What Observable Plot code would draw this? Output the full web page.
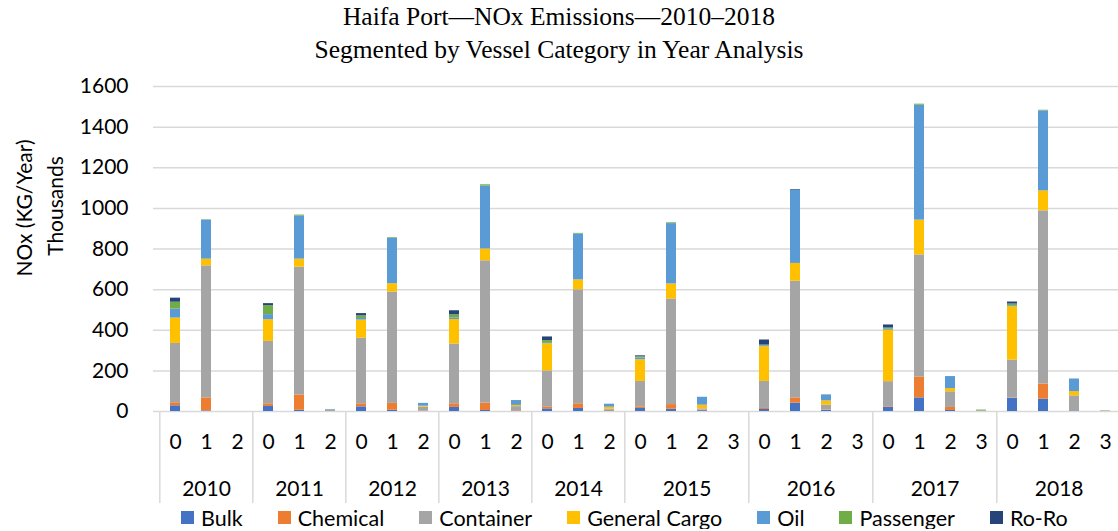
<!DOCTYPE html>
<html>
<head>
<meta charset="utf-8">
<script src="https://cdn.jsdelivr.net/npm/d3@7"></script>
<script src="https://cdn.jsdelivr.net/npm/@observablehq/plot@0.6"></script>
<style>
  html, body { margin: 0; padding: 0; background: #fff; overflow: hidden; }
  #title { font-family: "Liberation Serif", serif; font-size: 25.5px; line-height: 33px; text-align: center; height: 66px; color: #000; white-space: nowrap; }
  #chart svg { display: block; }
  #legend { height: 23px; margin-top: -2px; display: flex; align-items: center; padding-left: 181px; font-family: Lato, sans-serif; font-size: 21.5px; color: #000; white-space: nowrap; }
  .item { display: flex; align-items: center; margin-right: 35px; }
  .sw { width: 13px; height: 13px; margin-right: 7px; }
</style>
</head>
<body>
<div id="title">Haifa Port—NOx Emissions—2010–2018<br>Segmented by Vessel Category in Year Analysis</div>
<div id="chart"></div>
<div id="legend"></div>
<script>
const years = [2010, 2011, 2012, 2013, 2014, 2015, 2016, 2017, 2018];
const subCounts = [3, 3, 3, 3, 3, 4, 4, 4, 4];
const vessels = ["Bulk", "Chemical", "Container", "General Cargo", "Oil", "Passenger", "Ro-Ro"];
const colors = ["#4472C4", "#ED7D31", "#A5A5A5", "#FFC000", "#5B9BD5", "#70AD47", "#264478"];
const yTicks = [0, 200, 400, 600, 800, 1000, 1200, 1400, 1600];

// values in thousands KG/year, slot order: 2010-0,1,2 ... 2015-0,1,2,3 ... 2018-0,1,2,3
const bulk         = [28, 3, 0,   25, 6, 0,   23, 6, 1,   20, 5, 2,   13, 15, 3,   15, 11, 4, 0,   10, 41, 6, 0,   21, 67, 5, 0,   64, 61, 3, 0];
const chemical     = [15, 64, 0,  13, 75, 0,  15, 34, 1,  18, 36, 2,  10, 23, 3,   8, 23, 3, 0,    5, 26, 2, 0,    3, 103, 15, 0,  2, 74, 0, 0];
const container    = [292, 650, 0, 307, 630, 6, 323, 548, 19, 294, 701, 20, 177, 561, 5, 125, 520, 6, 0, 133, 574, 23, 0, 123, 601, 77, 3, 187, 853, 74, 1];
const generalCargo = [125, 33, 0, 107, 39, 1, 89, 41, 5,  121, 58, 6, 134, 49, 10, 107, 74, 18, 0, 171, 88, 21, 0, 253, 171, 16, 0, 263, 98, 21, 0];
const oil          = [44, 192, 0, 25, 212, 3, 8, 224, 14, 8, 310, 24, 5, 226, 15,  8, 297, 39, 0,  5, 361, 30, 0,  5, 566, 59, 0,  5, 394, 62, 0];
const passenger    = [34, 2, 0,   44, 5, 0,   13, 3, 0,   15, 6, 0,   10, 3, 0,    6, 4, 0, 0,     3, 0, 0, 0,     6, 5, 0, 4,     8, 3, 0, 2];
const roRo         = [20, 0, 0,   10, 0, 0,   11, 0, 0,   20, 0, 0,   18, 0, 0,    5, 0, 0, 0,    25, 3, 0, 0,    15, 0, 0, 0,    10, 0, 0, 0];

const series = [bulk, chemical, container, generalCargo, oil, passenger, roRo];

const slots = [];
years.forEach((yr, i) => {
  for (let s = 0; s < subCounts[i]; s++) slots.push({year: yr, sub: String(s), key: yr + "|" + s});
});
const data = [];
slots.forEach((sl, j) => vessels.forEach((v, k) => data.push({key: sl.key, vessel: v, value: series[k][j]})));
const groups = years.map((yr, i) => ({year: String(yr), n: subCounts[i], first: yr + "|0", mid: yr + "|1"}));

const W = 1118, H = 442, mTop = 20, mBottom = 97, mLeft = 153;
const xRight = 1126;
const step = (xRight - mLeft) / slots.length;
const frameH = H - mTop - mBottom;

const txt = {fontSize: 21, fill: "#000", lineAnchor: "middle"};

const chart = Plot.plot({
  width: W, height: H, marginTop: mTop, marginBottom: mBottom, marginLeft: mLeft, marginRight: 0,
  style: {fontFamily: "Lato, sans-serif", fontSize: "21px", color: "#000", background: "transparent", overflow: "visible"},
  x: {type: "band", domain: slots.map(d => d.key), range: [mLeft, xRight], paddingInner: 0.68, paddingOuter: 0.34, axis: null},
  y: {domain: [0, 1600], axis: null},
  color: {domain: vessels, range: colors},
  marks: [
    Plot.ruleY(yTicks, {y: d => d, stroke: "#d9d9d9", strokeWidth: 1.5}),
    Plot.barY(data, Plot.stackY({x: "key", y: "value", fill: "vessel", order: vessels})),
    Plot.ruleX(groups, {x: "first", dx: -step / 2, stroke: "#d9d9d9", strokeWidth: 1.5, insetTop: frameH, insetBottom: -92}),
    Plot.text(yTicks, {...txt, y: d => d, text: d => String(d), frameAnchor: "left", textAnchor: "end", dx: -25}),
    Plot.text(slots, {...txt, x: "key", text: "sub", frameAnchor: "bottom", dy: 31}),
    Plot.text(groups.filter(g => g.n === 3), {...txt, x: "mid", text: "year", frameAnchor: "bottom", dy: 78}),
    Plot.text(groups.filter(g => g.n === 4), {...txt, x: "mid", text: "year", frameAnchor: "bottom", dy: 78, dx: step / 2}),
    Plot.text(["NOx (KG/Year)"], {...txt, text: d => d, frameAnchor: "left", textAnchor: "middle", rotate: -90, dx: -128, dy: -41}),
    Plot.text(["Thousands"], {...txt, text: d => d, frameAnchor: "left", textAnchor: "middle", rotate: -90, dx: -97, dy: -43})
  ]
});
document.getElementById("chart").appendChild(chart);

const legend = document.getElementById("legend");
vessels.forEach((v, i) => {
  const item = document.createElement("div");
  item.className = "item";
  const sw = document.createElement("span");
  sw.className = "sw";
  sw.style.background = colors[i];
  const lab = document.createElement("span");
  lab.textContent = v;
  item.appendChild(sw);
  item.appendChild(lab);
  legend.appendChild(item);
});
</script>
</body>
</html>
